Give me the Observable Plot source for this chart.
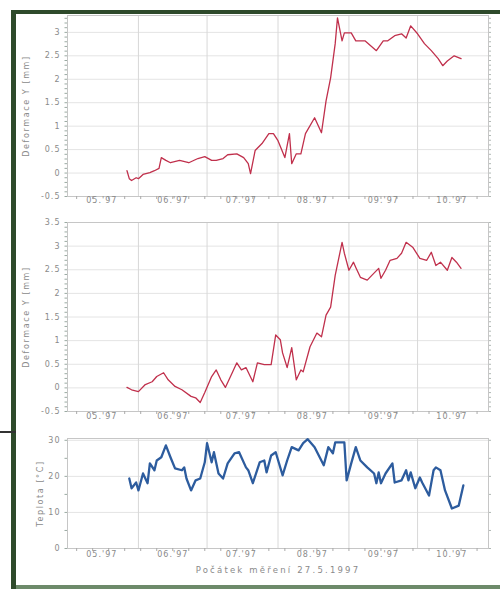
<!DOCTYPE html>
<html><head><meta charset="utf-8">
<script src="https://cdn.jsdelivr.net/npm/d3@7"></script>
<script src="https://cdn.jsdelivr.net/npm/@observablehq/plot@0.6"></script>
<style>
html,body{margin:0;padding:0;background:#fff;}
#page{position:relative;width:500px;height:589px;overflow:hidden;background:#fff;}
.panel{position:absolute;left:0;}
.bl{position:absolute;}
g[aria-label="x-axis label"] text{letter-spacing:2.2px;font-size:8.5px;}
g[aria-label="y-axis label"] text{letter-spacing:1.6px;}
</style></head>
<body><div id="page"></div>
<script>
// Measurement start 27.5.1997; offsets in days from start
const startLabel = "Počátek měření 27.5.1997";
const monthLabels = ["05.'97", "06.'97", "07.'97", "08.'97", "09.'97", "10.'97"];

// Panel 1 – Deformace Y [mm]
const deformDays1 = [0,1,2,4,5,7,10,12,14,15,17,19,23,27,31,34,37,39,42,44,48,51,53,54,56,59,62,64,66,69,71,72,74,76,78,82,85,87,89,91,92,94,95,98,100,104,109,112,114,117,120,122,124,127,130,133,136,138,140,143,146];
const deformValues1 = [0.05,-0.12,-0.16,-0.10,-0.12,-0.03,0.01,0.05,0.10,0.33,0.27,0.22,0.27,0.22,0.31,0.35,0.27,0.27,0.31,0.39,0.41,0.33,0.20,-0.01,0.48,0.63,0.84,0.84,0.69,0.33,0.84,0.20,0.41,0.41,0.84,1.18,0.86,1.54,2.03,2.76,3.31,2.82,2.99,2.99,2.82,2.82,2.61,2.82,2.82,2.93,2.97,2.88,3.14,2.97,2.76,2.61,2.44,2.29,2.39,2.50,2.44];
const deformTicks1 = [-0.5,0,0.5,1,1.5,2,2.5,3];

// Panel 2 – Deformace Y [mm]
const deformDays2 = [0,2,5,8,11,13,16,18,21,24,28,30,32,34,37,39,41,43,46,48,50,52,55,57,60,63,65,67,68,70,72,74,76,77,80,83,85,87,89,91,94,95,97,99,100,102,105,107,110,111,113,115,118,120,122,125,128,131,133,135,137,140,142,144,146];
const deformValues2 = [0.01,-0.04,-0.08,0.07,0.13,0.24,0.32,0.17,0.03,-0.04,-0.18,-0.21,-0.31,-0.10,0.24,0.38,0.17,0.01,0.32,0.53,0.38,0.43,0.13,0.53,0.49,0.49,1.12,1.02,0.74,0.43,0.85,0.17,0.38,0.34,0.87,1.16,1.08,1.54,1.71,2.38,3.08,2.85,2.49,2.66,2.55,2.34,2.28,2.38,2.53,2.32,2.49,2.70,2.74,2.85,3.08,2.97,2.74,2.70,2.87,2.59,2.66,2.49,2.76,2.66,2.53];
const deformTicks2 = [-0.5,0,0.5,1,1.5,2,2.5,3,3.5];

// Panel 3 – Teplota [°C]
const tempDays = [1,2,4,5,7,9,10,12,13,15,17,19,21,24,25,26,28,30,32,34,35,37,38,40,42,44,47,49,52,53,55,58,60,61,63,65,68,70,72,75,77,79,82,86,88,90,91,95,96,98,100,102,105,108,109,110,111,113,116,117,120,122,123,124,126,128,129,132,134,135,137,139,142,145,147];
const tempValues = [19.4,16.7,18.3,16.1,20.8,18.1,23.6,21.7,24.4,25.3,28.6,25.3,22.2,21.7,22.5,19.4,16.1,18.9,19.4,23.9,29.2,23.9,26.7,20.8,19.4,23.6,26.4,26.7,22.5,21.7,18.1,23.9,24.4,21.1,25.8,26.7,20.3,24.4,28.1,27.2,29.2,30.3,28.1,23.1,28.1,26.4,29.4,29.4,18.9,23.6,28.1,24.4,22.5,20.8,18.1,21.1,18.1,20.8,23.6,18.3,18.9,21.7,18.9,21.1,16.7,19.7,18.3,14.7,21.7,22.5,21.7,16.1,11.1,11.9,17.5];
const tempTicks = [0,10,20,30];

const xDomain = [new Date(Date.UTC(1997,4,1)), new Date(Date.UTC(1997,10,1))];
const monthGrid = d3.range(1,6).map(i => new Date(Date.UTC(1997,4+i,1)));
const monthTicks = monthLabels.map((_, i) => new Date(Date.UTC(1997,4+i,16)));
const weekTicks = d3.utcMonday.range(xDomain[0], xDomain[1]);

function panel(o) {
  const data = o.days.map((d, i) => ({date: new Date(Date.UTC(1997,4,27+d)), value: o.values[i]}));
  return Plot.plot({
    width: 500, height: o.height,
    marginLeft: 67, marginRight: 12, marginTop: o.mt, marginBottom: o.mb,
    style: {fontFamily: "DejaVu Sans, sans-serif", fontSize: "8px", color: "#8a8a8a", background: "transparent", letterSpacing: "1px"},
    x: {type: "utc", domain: xDomain},
    y: {domain: o.yDomain},
    marks: [
      Plot.gridY(o.yTicks, {stroke: "#e4e4e4", strokeOpacity: 1}),
      Plot.gridX(monthGrid, {stroke: "#d8d8d8", strokeOpacity: 1}),
      Plot.frame({stroke: "#c6c6c6"}),
      Plot.axisY(o.yMinor, {tickSize: 2.5, tickFormat: () => "", label: null, stroke: "#9aaaa2"}),
      Plot.axisY(o.yMinor, {anchor: "right", tickSize: 2, tickFormat: () => "", label: null, stroke: "#b0b8b4"}),
      Plot.axisY(o.yTicks, {tickSize: 0, tickPadding: 7, tickFormat: d => String(d), label: o.yLabel, labelAnchor: "center", labelOffset: o.yLabelOffset, labelArrow: "none"}),
      Plot.axisX(weekTicks, {tickSize: 3, tickFormat: () => "", label: null, stroke: "#aaa"}),
      Plot.axisX(monthTicks, {tickSize: 0, tickPadding: o.xPad, tickFormat: d => monthLabels[d.getUTCMonth() - 4], label: o.xLabel, labelAnchor: "center", labelOffset: 24, labelArrow: "none"}),
      Plot.lineY(data, {x: "date", y: "value", stroke: o.color, strokeWidth: o.sw, strokeLinejoin: "round"})
    ]
  });
}

const minor = (a, b, s) => d3.range(Math.round(a / s), Math.round(b / s) + 1).map(k => +(k * s).toFixed(3));

const page = document.getElementById("page");
const panels = [
  {top: 0, days: deformDays1, values: deformValues1, yDomain: [-0.5, 3.36], yTicks: deformTicks1, yMinor: minor(-0.5, 3.3, 0.1), color: "#c0304c", sw: 1.3, height: 215, mt: 15, mb: 19, yLabel: "Deformace Y [mm]", yLabelOffset: 44, xLabel: null, xPad: 1},
  {top: 215, days: deformDays2, values: deformValues2, yDomain: [-0.5, 3.5], yTicks: deformTicks2, yMinor: minor(-0.5, 3.5, 0.1), color: "#c0304c", sw: 1.3, height: 210, mt: 7, mb: 14, yLabel: "Deformace Y [mm]", yLabelOffset: 44, xLabel: null, xPad: 2},
  {top: 425, days: tempDays, values: tempValues, yDomain: [0, 30.5], yTicks: tempTicks, yMinor: minor(0, 30, 5), color: "#2d5c9e", sw: 2.3, height: 164, mt: 13, mb: 41, yLabel: "Teplota [°C]", yLabelOffset: 30, xLabel: startLabel, xPad: 3}
];
for (const p of panels) {
  const svg = panel(p);
  svg.classList.add("panel");
  svg.style.top = p.top + "px";
  page.appendChild(svg);
}
// scanned page border
const borders = [
  {l: 11, t: 10, w: 489, h: 4, c: "#2e4a2b"},
  {l: 11, t: 10, w: 5, h: 579, c: "#2e4a2b"},
  {l: 0, t: 431, w: 16, h: 2, c: "#333"},
  {l: 16, t: 585, w: 484, h: 4, c: "#6d8a6a"}
];
for (const b of borders) {
  const d = document.createElement("div");
  d.className = "bl";
  Object.assign(d.style, {left: b.l + "px", top: b.t + "px", width: b.w + "px", height: b.h + "px", background: b.c});
  page.appendChild(d);
}
</script></body></html>
